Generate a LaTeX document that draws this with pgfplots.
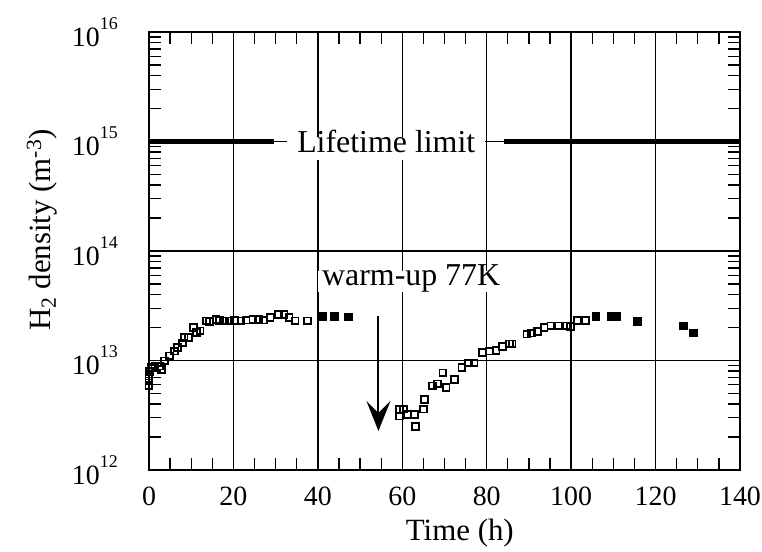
\documentclass[border=0pt]{standalone}
\usepackage{pgfplots}
\pgfplotsset{compat=1.18}
\usepackage{fontspec}
\setmainfont{Liberation Serif}
\usetikzlibrary{arrows.meta}
\newcommand{\tk}{\fontsize{28}{32}\selectfont}
\newcommand{\an}{\fontsize{32}{36}\selectfont}
\newcommand{\lb}{\fontsize{31}{35}\selectfont}
\newcommand{\ysup}[1]{10\raisebox{17bp}{\fontsize{18}{18}\selectfont #1}}
\begin{document}
\begin{tikzpicture}
\path[use as bounding box] (-149bp,-82bp) rectangle (613bp,470bp);
\begin{axis}[
  scale only axis, width=591bp, height=438bp,
  xmin=0, xmax=140, ymode=log, ymin=1e12, ymax=1e16,
  xtick={0,20,40,60,80,100,120,140},
  xticklabels={0,20,40,60,80,100,120,140},
  minor xtick={5,10,15,25,30,35,45,50,55,65,70,75,85,90,95,105,110,115,125,130,135},
  ytick={1e12,1e13,1e14,1e15,1e16},
  yticklabels={\ysup{12},\ysup{13},\ysup{14},\ysup{15},\ysup{16}},
  minor ytick={2e12,3e12,4e12,5e12,6e12,7e12,8e12,9e12,
               2e13,3e13,4e13,5e13,6e13,7e13,8e13,9e13,
               2e14,3e14,4e14,5e14,6e14,7e14,8e14,9e14,
               2e15,3e15,4e15,5e15,6e15,7e15,8e15,9e15},
  grid=major, major grid style={black, line width=1.3bp},
  axis line style={black, line width=1.8bp},
  tick align=inside, tick style={black, line width=1.3bp},
  major tick length=12bp, minor tick length=12bp,
  ticklabel style={font=\tk},
  yticklabel style={inner sep=0pt, xshift=-31bp},
  xticklabel style={inner sep=0pt, yshift=-17bp},
  xlabel={Time (h)},
  ylabel={H\textsubscript{2} density (m\textsuperscript{-3})},
  label style={font=\lb},
  xlabel style={at={(axis description cs:0.526,-0.16)}, anchor=base, inner sep=0pt},
  ylabel style={at={(axis description cs:-0.1675,0.548)}, anchor=base},
  clip=false,
]
% lifetime limit line
\addplot[black, line width=4.5bp, forget plot] coordinates {(0,1e15) (29.5,1e15)};
\addplot[black, line width=4.5bp, forget plot] coordinates {(84,1e15) (140,1e15)};
% open squares
\addplot[only marks, mark=square, mark size=3.4bp, mark options={black, line width=1.8bp, fill=white, solid}] coordinates {
(0,5.9e12) (0,6.5e12) (0,7.2e12) (0.1,7.9e12) (0.6,8.6e12) (1.4,8.9e12) (2.5,8.9e12)
(2.9,8.3e12) (3.7,9.9e12) (4.8,1.1e13) (6.0,1.22e13) (6.7,1.31e13) (7.9,1.45e13)
(8.3,1.62e13) (9.4,1.62e13) (10.6,2.0e13) (11.3,1.8e13) (12.1,1.86e13) (13.6,2.3e13)
(14.4,2.26e13) (15.9,2.38e13) (16.7,2.33e13) (17.9,2.3e13) (19.0,2.3e13) (20.2,2.33e13)
(21.8,2.3e13) (23.0,2.34e13) (24.6,2.38e13) (25.9,2.38e13) (27.1,2.34e13) (28.7,2.46e13)
(30.7,2.64e13) (32.0,2.64e13) (33.2,2.46e13) (34.6,2.3e13) (37.6,2.3e13)
(59.3,3.1e12) (59.3,3.6e12) (60.3,3.6e12) (61.3,3.2e12) (63.0,3.2e12) (63.2,2.5e12)
(65.0,3.6e12) (65.3,4.4e12) (67.1,5.85e12) (68.3,6.1e12) (69.6,7.7e12) (70.4,5.65e12)
(72.4,6.7e12) (74.1,8.6e12) (75.7,9.5e12) (77.0,9.5e12) (79.0,1.18e13) (80.6,1.22e13)
(82.2,1.24e13) (83.8,1.34e13) (85.4,1.42e13) (86.0,1.42e13) (89.5,1.74e13) (90.6,1.78e13)
(92.0,1.83e13) (93.6,2.0e13) (95.2,2.07e13) (97.1,2.07e13) (99.0,2.07e13) (99.9,2.05e13)
(101.4,2.33e13) (103.4,2.33e13)
};
% filled squares
\addplot[only marks, mark=square*, mark size=3.8bp, mark options={black, fill=black, solid}] coordinates {
(41.0,2.55e13) (43.8,2.55e13) (47.2,2.52e13)
(105.8,2.55e13) (109.5,2.55e13) (110.7,2.55e13) (115.7,2.27e13) (126.6,2.07e13) (128.9,1.8e13)
};
\node[fill=white, font=\an, anchor=base, text height=0.9em, text depth=0.15em, inner xsep=10bp, inner ysep=6bp]
  at (axis cs:56.2,7.94e14) {Lifetime limit};
\node[fill=white, font=\an, anchor=base, text height=0.9em, text depth=0pt, inner xsep=4bp, inner ysep=6bp]
  at (axis cs:62.1,4.79e13) {warm-up 77K};
\draw[black, line width=2bp, -{Stealth[length=30bp, width=24bp, inset=12bp]}]
  (axis cs:54.35,2.55e13) -- (axis cs:54.35,2.27e12);
\end{axis}
\end{tikzpicture}
\end{document}
